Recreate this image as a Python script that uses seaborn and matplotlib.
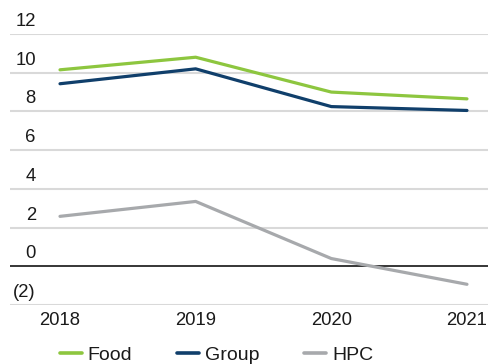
import pandas as pd
import matplotlib
matplotlib.use("Agg")
import matplotlib.pyplot as plt
import matplotlib.transforms as mtransforms
import seaborn as sns

# data
years = ["2018", "2019", "2020", "2021"]
food = [10.15, 10.8, 9.0, 8.65]
group = [9.43, 10.2, 8.25, 8.05]
hpc = [2.58, 3.35, 0.4, -0.93]
y_ticks = [12, 10, 8, 6, 4, 2, 0, -2]
y_labels = ["12", "10", "8", "6", "4", "2", "0", "(2)"]

df = pd.DataFrame({
    "x": list(range(4)) * 3,
    "value": food + group + hpc,
    "series": ["Food"] * 4 + ["Group"] * 4 + ["HPC"] * 4,
})
colors = {"Food": "#8dc63f", "Group": "#103f6b", "HPC": "#a7a9ac"}

sns.set_style("white")
plt.rcParams["font.family"] = ["Liberation Sans", "DejaVu Sans"]

fig = plt.figure(figsize=(4.89, 3.64), dpi=100)
ax = fig.add_axes([10 / 489, 59 / 364, 478 / 489, 271 / 364])

# gridlines
for t in y_ticks:
    if t == 0:
        ax.axhline(t, color="black", lw=1.1, zorder=1)
    else:
        ax.axhline(t, color="#d9d9d9", lw=1.5, zorder=0)

sns.lineplot(data=df, x="x", y="value", hue="series", palette=colors,
             linewidth=2.3, ax=ax, legend=False, zorder=3)

ax.set_xlim(-0.3686, 3.155)
ax.set_ylim(-2, 12)
for s in ax.spines.values():
    s.set_visible(False)
ax.set_yticks([])
ax.set_xticks(range(4))
ax.set_xticklabels(years, fontsize=13.3, color="#1a1a1a")
ax.tick_params(axis="x", length=0, pad=5)
ax.set_xlabel("")
ax.set_ylabel("")

# y labels sit above their gridlines
trans = mtransforms.blended_transform_factory(ax.transAxes, ax.transData)
offset = mtransforms.ScaledTranslation(0, 4 / 100, fig.dpi_scale_trans)
for t, lab in zip(y_ticks, y_labels):
    ax.text(0.054, t, lab, transform=trans + offset, ha="right", va="bottom",
            fontsize=13.3, color="#1a1a1a", clip_on=False)

handles = [plt.Line2D([], [], color=colors[k], lw=2.6) for k in ["Food", "Group", "HPC"]]
fig.legend(handles, ["Food", "Group", "HPC"], loc="center", ncol=3,
           bbox_to_anchor=(216.5 / 489, 9 / 364), frameon=False, fontsize=14,
           handlelength=1.13, handletextpad=0.3, columnspacing=2.3,
           labelcolor="#1a1a1a")

fig.savefig("out.png", dpi=100)
